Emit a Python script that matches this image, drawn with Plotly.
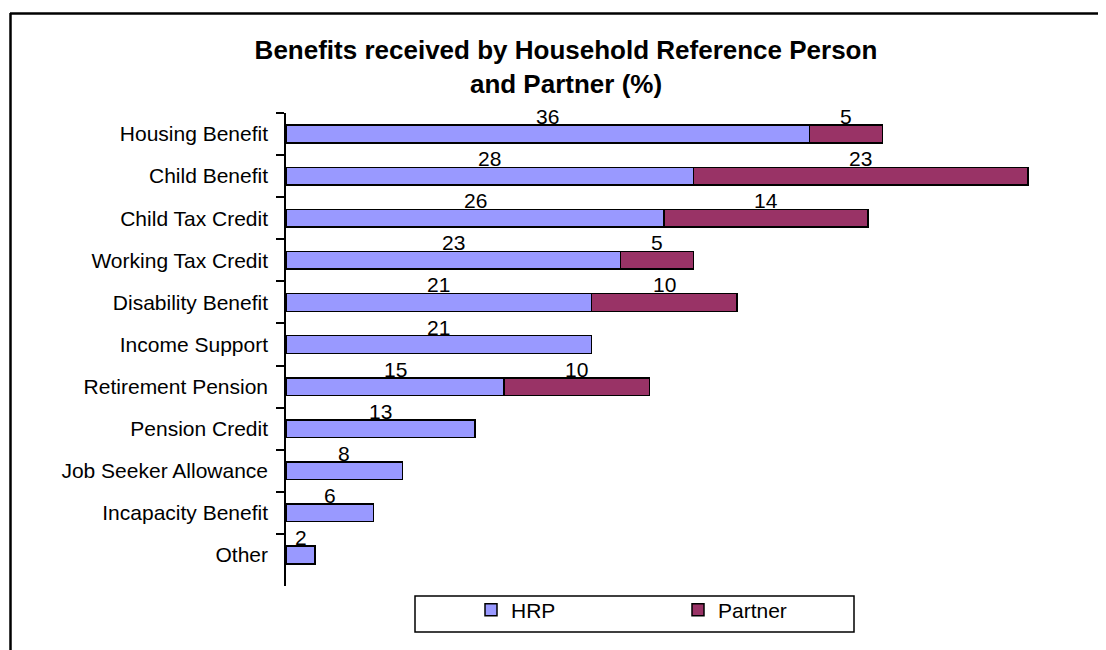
import plotly.graph_objects as go

categories = ["Housing Benefit", "Child Benefit", "Child Tax Credit", "Working Tax Credit",
              "Disability Benefit", "Income Support", "Retirement Pension", "Pension Credit",
              "Job Seeker Allowance", "Incapacity Benefit", "Other"]
hrp = [36, 28, 26, 23, 21, 21, 15, 13, 8, 6, 2]
partner = [5, 23, 14, 5, 10, None, 10, None, None, None, None]

title_text = "Benefits received by Household Reference Person<br>and Partner (%)"

W, H = 1106, 650
OFF = 8  # page body margin
# target plot-area edges in page pixels
L_T, R_T, T_T, B_T = 286, 1086, 113, 586
L, R, T, B = L_T - OFF, R_T - OFF, T_T - OFF, B_T - OFF
XMAX = 55
FONT = "Liberation Sans, Arial, sans-serif"


def px(xp):
    return (xp - OFF - L) / (R - L)


def py(yp):
    return (B - (yp - OFF)) / (B - T)


fig = go.Figure()
fig.add_trace(go.Bar(y=categories, x=hrp, name="HRP", orientation="h",
                     marker=dict(color="#9999FF", line=dict(color="black", width=1.5))))
fig.add_trace(go.Bar(y=categories, x=partner, name="Partner", orientation="h",
                     marker=dict(color="#993366", line=dict(color="black", width=1.5))))

annotations = []
for c, h, p in zip(categories, hrp, partner):
    annotations.append(dict(x=h / 2, y=c, xref="x", yref="y", text=str(h), showarrow=False,
                            yanchor="bottom", yshift=4, font=dict(size=21, color="black", family=FONT)))
    if p:
        annotations.append(dict(x=h + p / 2, y=c, xref="x", yref="y", text=str(p), showarrow=False,
                                yanchor="bottom", yshift=4, font=dict(size=21, color="black", family=FONT)))

# clipped heading fragment at top edge
annotations.append(dict(x=px(1039), y=py(4), xref="paper", yref="paper", text="<b>g</b>",
                        showarrow=False, yanchor="bottom", xanchor="center",
                        font=dict(size=21, color="black", family=FONT)))

shapes = [
    # outer frame (top and left)
    dict(type="line", xref="paper", yref="paper", x0=px(10), x1=px(1120), y0=py(13.5), y1=py(13.5),
         line=dict(color="black", width=2.5)),
    dict(type="line", xref="paper", yref="paper", x0=px(10.5), x1=px(10.5), y0=py(13), y1=py(670),
         line=dict(color="black", width=2.5)),
    # legend frame
    dict(type="rect", xref="paper", yref="paper", x0=px(415), x1=px(854), y0=py(596), y1=py(632),
         line=dict(color="black", width=1.5), fillcolor="rgba(0,0,0,0)"),
]

fig.update_layout(
    width=W, height=H,
    margin=dict(l=L, r=W - R, t=T, b=H - B, pad=0),
    barmode="stack", bargap=0.58,
    paper_bgcolor="white", plot_bgcolor="white",
    font=dict(family=FONT, color="black", size=21),
    title=dict(text=title_text, x=(566 - OFF) / W, xanchor="center", y=1 - 51 / H, yanchor="top",
               xref="container", yref="container",
               font=dict(family=FONT, size=26, color="black", weight="bold")),
    xaxis=dict(range=[0, XMAX], visible=False, showgrid=False, zeroline=False),
    yaxis=dict(categoryorder="array", categoryarray=categories, autorange="reversed",
               showline=True, linecolor="black", linewidth=1.5,
               ticks="outside", ticklen=8, tickwidth=1.5, tickcolor="black", tickson="boundaries",
               ticklabelstandoff=12, showgrid=False, zeroline=False,
               tickfont=dict(size=21, color="black", family=FONT)),
    showlegend=True,
    legend=dict(orientation="h", x=px(471), y=py(589.5), xanchor="left", yanchor="top",
                entrywidth=162, entrywidthmode="pixels", bgcolor="rgba(0,0,0,0)",
                borderwidth=0, font=dict(size=21, color="black", family=FONT),
                traceorder="normal"),
    annotations=annotations,
    shapes=shapes,
)

fig.write_html("out.html")
